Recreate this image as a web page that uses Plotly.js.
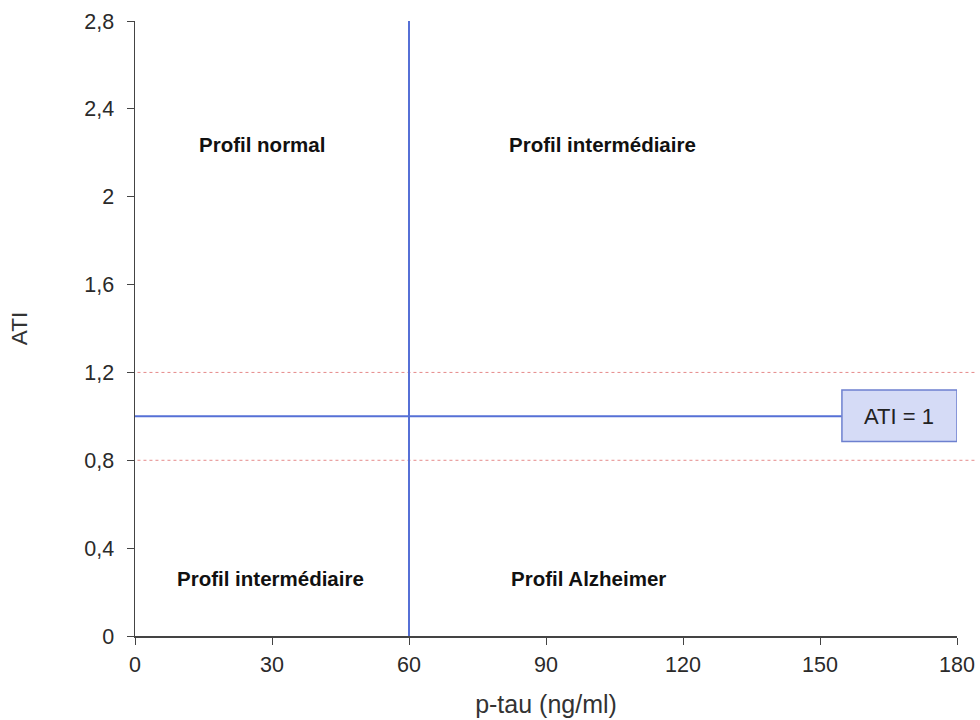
<!DOCTYPE html>
<html>
<head>
<meta charset="utf-8">
<script src="https://cdn.plot.ly/plotly-3.0.1.min.js"></script>
<style>html,body{margin:0;padding:0;background:#fff;}#chart{width:980px;height:720px;}</style>
</head>
<body>
<div id="chart"></div>
<script>
// Thresholds
const ptauThreshold = 60;
const atiThreshold = 1;
const atiBand = [0.8, 1.2];
// Axes
const xTicks = [0, 30, 60, 90, 120, 150, 180];
const yTicks = [0, 0.4, 0.8, 1.2, 1.6, 2, 2.4, 2.8];
const yTickText = ["0", "0,4", "0,8", "1,2", "1,6", "2", "2,4", "2,8"];
// Region labels
const regionLabels = ["Profil normal", "Profil intermédiaire", "Profil intermédiaire", "Profil Alzheimer"];
const regionX = [27.8, 102.3, 29.6, 99.2];
const regionY = [2.24, 2.24, 0.26, 0.26];
const boxLabel = "ATI = 1";
const boxX = [154.8, 180];

const blue = "#5670d6";
const traces = [
  {x: [ptauThreshold, ptauThreshold], y: [0, 2.8], mode: "lines", line: {color: blue, width: 2}, hoverinfo: "skip", showlegend: false},
  {x: [0, boxX[0]], y: [atiThreshold, atiThreshold], mode: "lines", line: {color: blue, width: 2}, hoverinfo: "skip", showlegend: false}
];

const shapes = atiBand.map(v => ({
  type: "line", xref: "paper", yref: "y", x0: 0.003, x1: 1.022, y0: v, y1: v,
  line: {color: "#e58a8a", width: 1, dash: "dot"}, layer: "below"
}));
shapes.push({
  type: "rect", xref: "x", yref: "y", x0: boxX[0], x1: boxX[1], y0: atiThreshold - 0.115, y1: atiThreshold + 0.12,
  fillcolor: "#d5dbf6", line: {color: "#6d80cf", width: 1.5}
});

const annotations = regionLabels.map((t, i) => ({
  x: regionX[i], y: regionY[i], xref: "x", yref: "y", text: "<b>" + t + "</b>", showarrow: false,
  font: {family: "Liberation Sans, Arial, sans-serif", size: 20.5, color: "#111"}
}));
annotations.push({
  x: (boxX[0] + boxX[1]) / 2, y: atiThreshold, xref: "x", yref: "y", text: boxLabel, showarrow: false,
  font: {family: "Liberation Sans, Arial, sans-serif", size: 22, color: "#222"}
});

const layout = {
  width: 980, height: 720,
  margin: {l: 135, r: 23, t: 21, b: 84},
  paper_bgcolor: "#fff", plot_bgcolor: "#fff",
  font: {family: "Liberation Sans, Arial, sans-serif", size: 20, color: "#333"},
  showlegend: false,
  xaxis: {
    range: [0, 180], tickvals: xTicks, ticktext: xTicks.map(String),
    showgrid: false, zeroline: false, showline: true, linecolor: "#444", linewidth: 1.5,
    ticks: "outside", ticklen: 7, tickcolor: "#444", tickfont: {size: 21.5, color: "#2a2a2a"},
    ticklabelstandoff: 2,
    title: {text: "p-tau (ng/ml)", font: {size: 25, color: "#333"}, standoff: 19}
  },
  yaxis: {
    range: [0, 2.8], tickvals: yTicks, ticktext: yTickText,
    showgrid: false, zeroline: false, showline: true, linecolor: "#444", linewidth: 1.5,
    ticks: "outside", ticklen: 7, tickcolor: "#444", tickfont: {size: 21.5, color: "#2a2a2a"},
    ticklabelstandoff: 8,
    title: {text: "ATI", font: {size: 22.5, color: "#333"}, standoff: 50}
  },
  shapes: shapes,
  annotations: annotations
};

Plotly.newPlot("chart", traces, layout, {displayModeBar: false, staticPlot: true});
</script>
</body>
</html>
